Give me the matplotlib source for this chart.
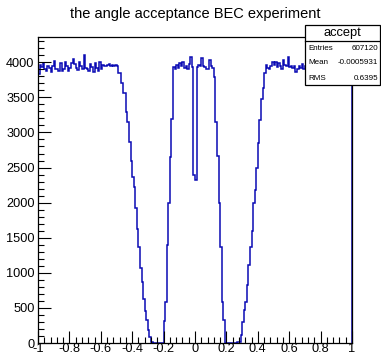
import matplotlib
matplotlib.use("Agg")
import matplotlib.pyplot as plt
import numpy as np
from matplotlib.ticker import MultipleLocator
from matplotlib.patches import Rectangle
from matplotlib.lines import Line2D

plt.rcParams['font.family'] = ['Liberation Sans', 'DejaVu Sans']

# ---- data ----
x_min, x_max, n_bins = -1.0, 1.0, 200

left_flat = [3830, 3960, 3930, 3990, 3900, 3880, 3940, 3920, 3860, 3950,
             4020, 3900, 3910, 3880, 3990, 3870, 3900, 4010, 3950, 3880,
             3920, 3990, 4040, 3970, 3920, 3890, 4000, 3940, 3900, 4100,
             3920, 3900, 3880, 3980, 3930, 3860, 3990, 3920, 3870, 4010,
             3900, 3960, 3950, 3940, 3960, 3970, 3940, 3960, 3950, 3960,
             3950]
left_edge = [3843, 3843, 3700, 3557, 3557, 3296, 3154, 2870, 2600, 2370,
             2227, 1919, 1624, 1372, 1064, 865, 623, 460, 328, 185,
             80, 20]
gap_left = [0, 0, 0, 0, 0, 0, 0]
center = [320, 590, 1400, 2000, 2650, 3190,
          3930, 3900, 3960, 3920, 3990, 3950, 4000, 3920, 3950, 3900,
          3970, 4080, 3930, 2390, 2320, 3930, 3960, 3940, 4060, 3950,
          3930, 3910, 3900, 4030, 3940, 3920, 3790,
          3150, 2660, 2000, 1372, 588, 328]
gap_right = [0, 0, 0, 0, 0, 0, 0, 0, 10]
right_edge = [20, 110, 300, 470, 590, 830, 1110, 1370, 1590, 1990,
              2180, 2490, 2850, 3180, 3470, 3630, 3850, 3960]
right_flat = [3920, 3900, 3940, 4010, 3960, 4000, 3930, 3990, 3950, 3900,
              4030, 3960, 3940, 4080, 3930, 3950, 3920, 3940, 3860, 3900,
              3950, 3920, 3980, 3900, 3940, 3960, 3910, 3950, 3930, 3970,
              3900, 3960, 3940, 3920, 3980, 3930, 3950, 3900, 3960, 3940,
              3920, 3970, 3930, 3950, 3910, 3960, 3940, 3900, 3950, 3930]

counts = left_flat + left_edge + gap_left + center + gap_right + right_edge + right_flat
counts = counts[:n_bins] + [3900] * max(0, n_bins - len(counts))
edges = np.linspace(x_min, x_max, n_bins + 1)

title = "the angle acceptance BEC experiment"
stats_name = "accept"
stats_rows = [("Entries", "607120"), ("Mean", "-0.0005931"), ("RMS", "0.6395")]
x_tick_labels = ['-1', '-0.8', '-0.6', '-0.4', '-0.2', '0', '0.2', '0.4', '0.6', '0.8', '1']

# ---- figure ----
W, H = 381, 355
fig = plt.figure(figsize=(W / 100, H / 100), dpi=100)
ax = fig.add_axes([38 / W, 12 / H, (352 - 38) / W, (343 - 37) / H])

ax.stairs(counts, edges, color='#0a0ab4', linewidth=1.1)
ax.set_xlim(x_min, x_max)
ax.set_ylim(0, 4360)

ax.xaxis.set_minor_locator(MultipleLocator(0.04))
ax.yaxis.set_major_locator(MultipleLocator(500))
ax.yaxis.set_minor_locator(MultipleLocator(100))
ax.set_xticks(np.linspace(-1, 1, 11))
ax.set_xticklabels(x_tick_labels)
ax.tick_params(axis='both', which='both', direction='in', top=False, right=False,
               labelsize=9.2, color='black')
ax.tick_params(axis='x', which='major', length=9, width=0.8, pad=0.3)
ax.tick_params(axis='x', which='minor', length=4.5, width=0.8)
ax.tick_params(axis='y', which='major', length=9, width=0.8, pad=2.5)
ax.tick_params(axis='y', which='minor', length=4.5, width=0.8)
for s in ax.spines.values():
    s.set_linewidth(0.9)

fig.text(195 / W, 1 - 14 / H, title, ha='center', va='center', fontsize=10.5)

# stats box
bx0, bx1, by0, by1, bdiv = 305, 380, 25, 85, 41
fig.patches.append(Rectangle((bx0 / W, 1 - by1 / H), (bx1 - bx0) / W, (by1 - by0) / H,
                             transform=fig.transFigure, facecolor='white',
                             edgecolor='black', linewidth=0.9, zorder=10))
fig.lines.append(Line2D([bx0 / W, bx1 / W], [1 - bdiv / H, 1 - bdiv / H],
                        transform=fig.transFigure, color='black', linewidth=0.9, zorder=11))
fig.text((bx0 + bx1) / 2 / W, 1 - 33 / H, stats_name, ha='center', va='center',
         fontsize=9.3, zorder=12)
row_y = [48, 63, 78]
for (k, v), yy in zip(stats_rows, row_y):
    fig.text(308 / W, 1 - yy / H, k, ha='left', va='center', fontsize=5.8, zorder=12)
    fig.text(378 / W, 1 - yy / H, v, ha='right', va='center', fontsize=5.8, zorder=12)

fig.savefig("out.png", dpi=100)
